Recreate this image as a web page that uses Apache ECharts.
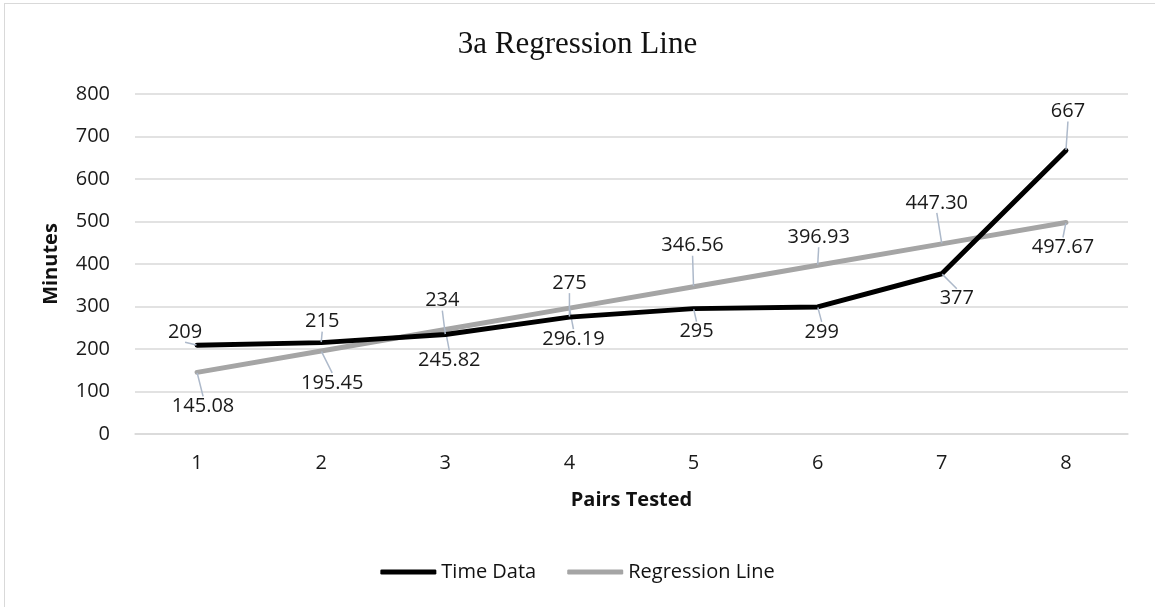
<!DOCTYPE html>
<html>
<head>
<meta charset="utf-8">
<script src="https://cdn.jsdelivr.net/npm/echarts@6/dist/echarts.min.js"></script>
<style>
  html, body { margin: 0; padding: 0; background: #fff; }
  #frame { position: absolute; left: 4px; top: 3px; width: 1160px; height: 620px; border: 1px solid #d9d9d9; box-sizing: border-box; }
  #chart { position: absolute; left: 0; top: 0; width: 1155px; height: 607px; }
</style>
</head>
<body>
<div id="frame"></div>
<div id="chart"></div>
<script>
// data
const pairs = ["1", "2", "3", "4", "5", "6", "7", "8"];
const timeData = [209, 215, 234, 275, 295, 299, 377, 667];
const regression = [145.08, 195.45, 245.82, 296.19, 346.56, 396.93, 447.3, 497.67];
const regressionText = ["145.08", "195.45", "245.82", "296.19", "346.56", "396.93", "447.30", "497.67"];

// where the Excel labels sit relative to their point (dx, dy)
const timeOffsets = [[-12, -13], [1, -21], [-3, -34], [0, -34], [3, 23], [4, 25], [15, 25], [2, -39]];
const regOffsets = [[6, 34], [11, 32], [4, 31], [4, 31], [-1, -41], [1, -28], [-5, -41], [-3, 25]];

const chart = echarts.init(document.getElementById("chart"));

const labelFont = { fontFamily: "'Open Sans', 'Liberation Sans', sans-serif", fontSize: 20, color: "#1a1a1a" };

chart.setOption({
  animation: false,
  title: {
    text: "3a Regression Line",
    left: "center",
    top: 24,
    textStyle: { fontFamily: "'Liberation Serif', serif", fontSize: 31, fontWeight: "normal", color: "#111" },
  },
  legend: {
    top: 557,
    left: "center",
    icon: "roundRect",
    itemWidth: 56,
    itemHeight: 5,
    itemGap: 31,
    textStyle: { ...labelFont, color: "#111" },
    data: ["Time Data", "Regression Line"],
  },
  grid: { left: 135, right: 27, top: 94, bottom: 173 },
  xAxis: {
    type: "category",
    data: pairs,
    name: "Pairs Tested",
    nameLocation: "middle",
    nameGap: 56,
    nameTextStyle: { ...labelFont, fontWeight: "bold", color: "#111" },
    axisLine: { lineStyle: { color: "#d9d9d9", width: 1.5 } },
    axisTick: { lineStyle: { color: "#d9d9d9", width: 1.5 }, length: 6 },
    axisLabel: { ...labelFont, margin: 19 },
  },
  yAxis: {
    type: "value",
    min: 0,
    max: 800,
    interval: 100,
    name: "Minutes",
    nameLocation: "middle",
    nameGap: 74,
    nameTextStyle: { ...labelFont, fontWeight: "bold", color: "#111" },
    axisLabel: { ...labelFont, margin: 25 },
    splitLine: { lineStyle: { color: "#d9d9d9", width: 1.5 } },
  },
  series: [
    {
      name: "Regression Line",
      type: "line",
      data: regression,
      z: 2,
      symbol: "circle",
      symbolSize: 1,
      itemStyle: { color: "#a5a5a5" },
      lineStyle: { color: "#a5a5a5", width: 5, cap: "round" },
      label: {
        show: true,
        position: "inside",
        ...labelFont,
        formatter: (p) => regressionText[p.dataIndex],
      },
      labelLine: { show: true, lineStyle: { color: "#adb9ca", width: 1.5 } },
      labelLayout: (p) => ({ dx: regOffsets[p.dataIndex][0], dy: regOffsets[p.dataIndex][1] }),
    },
    {
      name: "Time Data",
      type: "line",
      data: timeData,
      z: 3,
      symbol: "circle",
      symbolSize: 1,
      itemStyle: { color: "#000" },
      lineStyle: { color: "#000", width: 5, cap: "round", join: "round" },
      label: { show: true, position: "inside", ...labelFont },
      labelLine: { show: true, lineStyle: { color: "#adb9ca", width: 1.5 } },
      labelLayout: (p) => ({ dx: timeOffsets[p.dataIndex][0], dy: timeOffsets[p.dataIndex][1] }),
    },
  ],
});
</script>
</body>
</html>
